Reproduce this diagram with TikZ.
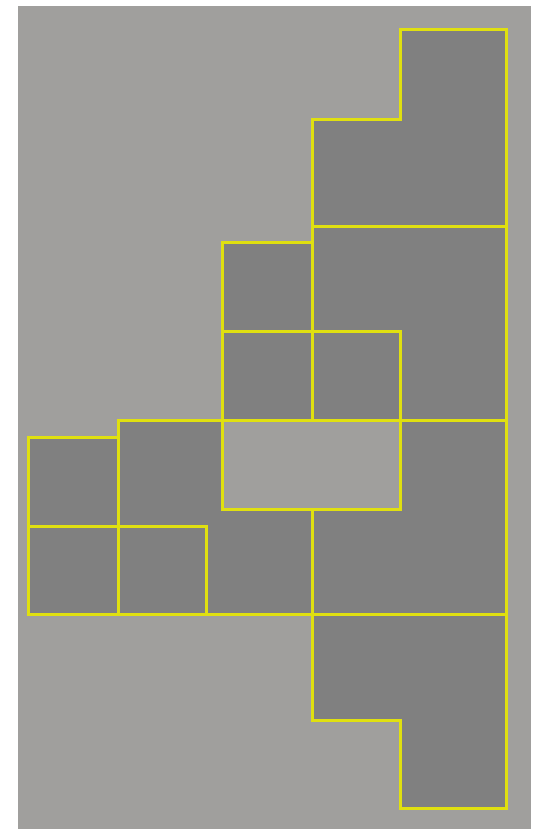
\documentclass[tikz,border=0pt]{standalone}
\definecolor{sfondo}{RGB}{160,159,157}
\definecolor{pezzo}{RGB}{128,128,128}
\definecolor{bordo}{RGB}{224,224,16}
\begin{document}
\begin{tikzpicture}[x=1pt, y=-1pt,
    tessera/.style={fill=pezzo, draw=bordo, line width=3pt, line join=miter}]
    % Cornice
    \useasboundingbox (0,0) rectangle (537,829);
    \fill[white] (0,0) rectangle (537,829);
    \fill[sfondo] (18,6) rectangle (531,829);

    % Pezzi a L sulla destra
    \draw[tessera] (400,30) -- (506,30) -- (506,226) -- (312,226) -- (312,120) -- (400,120) -- cycle;
    \draw[tessera] (312,226) -- (506,226) -- (506,420) -- (400,420) -- (400,331) -- (312,331) -- cycle;
    \draw[tessera] (400,420) -- (506,420) -- (506,614) -- (312,614) -- (312,509) -- (400,509) -- cycle;
    \draw[tessera] (312,614) -- (506,614) -- (506,808) -- (400,808) -- (400,720) -- (312,720) -- cycle;

    % Pezzo a sinistra
    \draw[tessera] (118,420) -- (222,420) -- (222,509) -- (312,509) -- (312,614) -- (206,614) -- (206,526) -- (118,526) -- cycle;

    % Quadrati
    \foreach \x/\y/\w/\h in {222/242/90/89, 222/331/90/89, 312/331/88/89,
                             28/437/90/89, 28/526/90/88, 118/526/88/88} {
        \draw[tessera] (\x,\y) rectangle ++(\w,\h);
    }

    % Buco centrale
    \draw[draw=bordo, line width=3pt, fill=sfondo] (222,420) rectangle (400,509);
\end{tikzpicture}
\end{document}
